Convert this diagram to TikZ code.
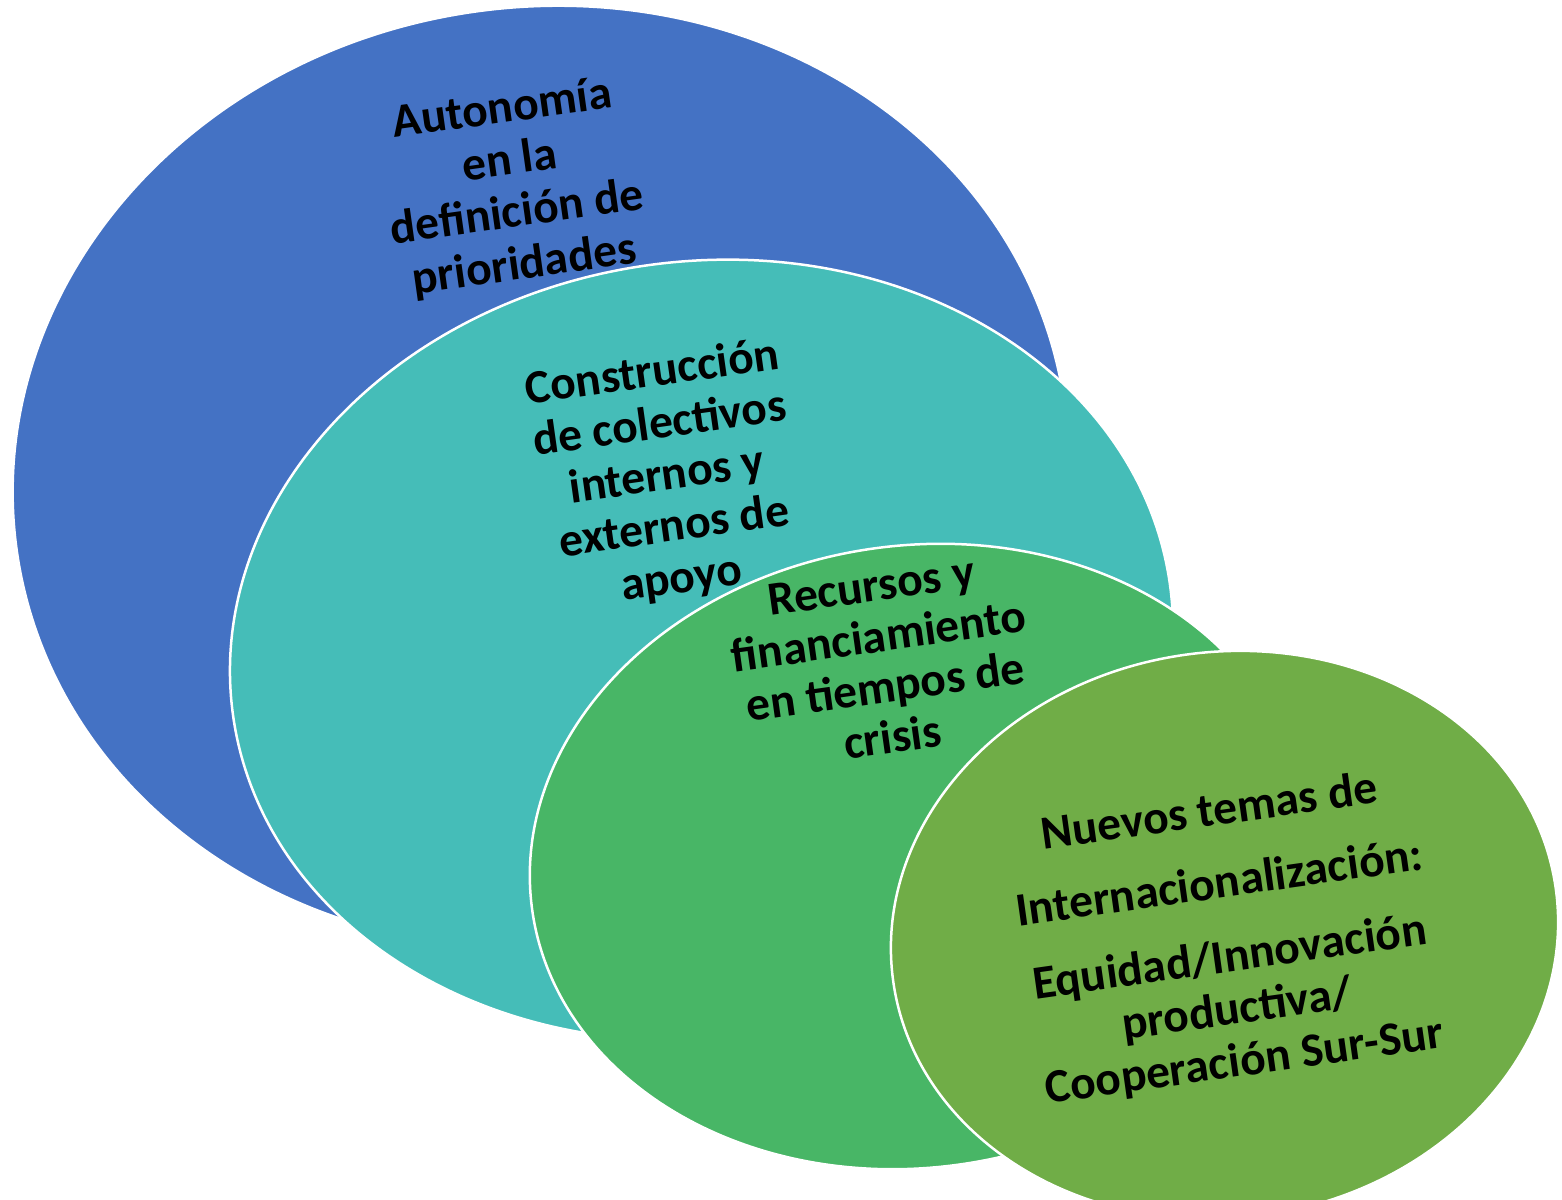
\documentclass[tikz,border=0pt]{standalone}
\usepackage{fontspec}
\setmainfont{Carlito}
\usetikzlibrary{shapes.geometric}
\definecolor{cblue}{RGB}{68,114,196}
\definecolor{cteal}{RGB}{69,189,184}
\definecolor{cgreen}{RGB}{72,182,102}
\definecolor{colive}{RGB}{112,173,71}
\begin{document}
\begin{tikzpicture}[x=1pt,y=-1pt,
  blob/.style={ellipse, draw=white, line width=2.5pt, inner sep=0pt, outer sep=0pt, rotate=8},
  lbl/.style={align=center, rotate=8, font=\fontsize{47.5}{52.5}\selectfont\bfseries, text=black, inner sep=0pt}]
\useasboundingbox (0,0) rectangle (1562,1199);
\node[blob, fill=cblue, minimum width=1058pt, minimum height=940pt] (b1) at (540.6,477) {};
\node[blob, fill=cteal, minimum width=946pt, minimum height=777pt] (b2) at (701.5,650) {};
\node[blob, fill=cgreen, minimum width=776pt, minimum height=622pt] (b3) at (916.5,856.5) {};
\node[blob, fill=colive, minimum width=669pt, minimum height=566pt] (b4) at (1224.5,935) {};
\node[lbl] (t1) at (513.4,188) {Autonomía\\en la\\definición de\\prioridades};
\node[lbl, font=\fontsize{47.5}{52}\selectfont\bfseries] (t2) at (667,476.7) {Construcción\\de colectivos\\internos y\\externos de\\apoyo};
\node[lbl, font=\fontsize{47.5}{51}\selectfont\bfseries] (t3) at (882,662) {Recursos y\\financiamiento\\en tiempos de\\crisis};
\node[lbl] (t4) at (1227,938) {Nuevos temas de\\[20pt]Internacionalización:\\[22pt]Equidad/Innovación\\productiva/\\Cooperación Sur-Sur};
\end{tikzpicture}
\end{document}
